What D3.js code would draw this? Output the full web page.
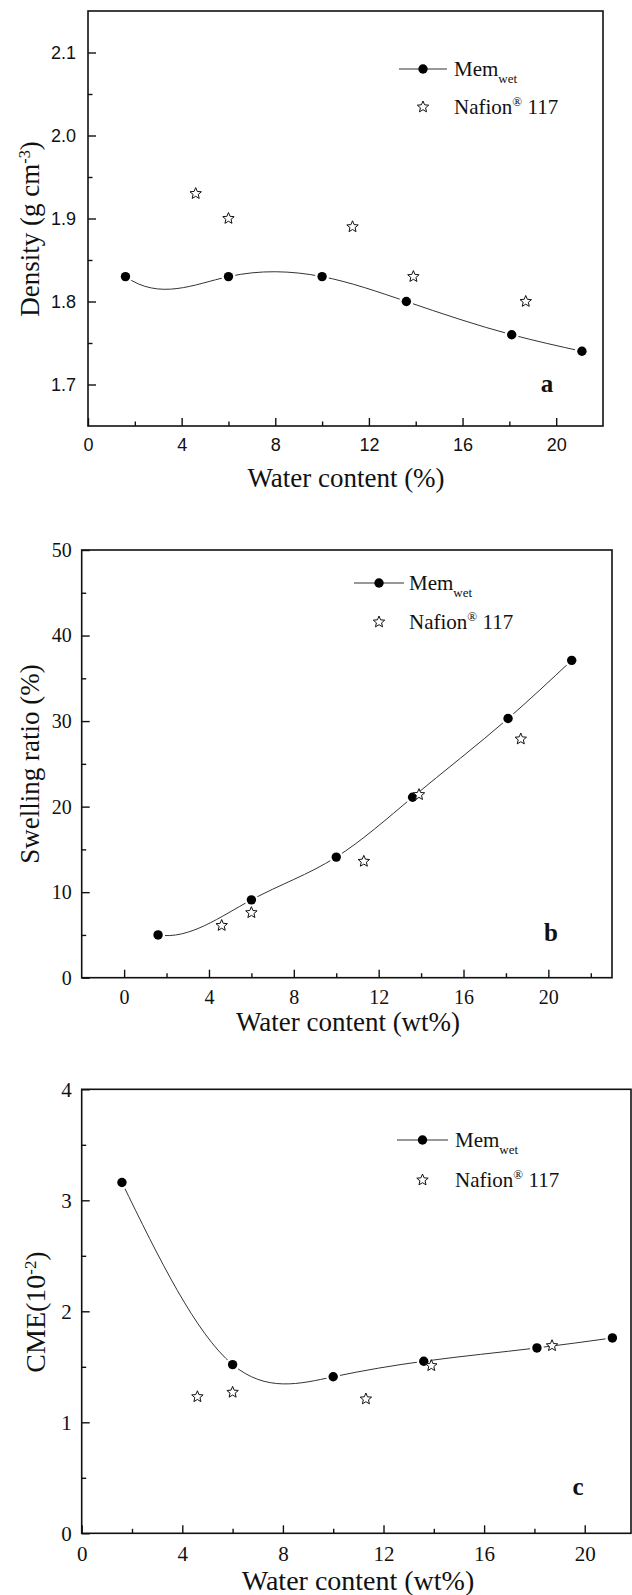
<!DOCTYPE html>
<html>
<head>
<meta charset="utf-8">
<script src="https://cdn.jsdelivr.net/npm/d3@7"></script>
<style>
  html, body { margin: 0; padding: 0; background: #fff; }
  svg { display: block; }
</style>
</head>
<body>
<svg id="chart" width="632" height="1595"></svg>
<script>
// ---------- data ----------
const memX = [1.6, 6.0, 10.0, 13.6, 18.1, 21.1];
const nafX = [4.6, 6.0, 11.3, 13.9, 18.7];

const densityMem = [1.83, 1.83, 1.83, 1.80, 1.76, 1.74];
const densityNaf = [1.93, 1.90, 1.89, 1.83, 1.80];

const swellMem = [5.0, 9.1, 14.1, 21.1, 30.3, 37.1];
const swellNaf = [6.1, 7.6, 13.6, 21.4, 27.9];

const cmeMem = [3.16, 1.52, 1.41, 1.55, 1.67, 1.76];
const cmeNaf = [1.23, 1.27, 1.21, 1.51, 1.69];

const xMajorTicks = [0, 4, 8, 12, 16, 20];
const xMinorTicksA = [2, 6, 10, 14, 18];
const xMinorTicksB = [2, 6, 10, 14, 18, 22];
const xMinorTicksC = [2, 6, 10, 14, 18];

const yMajorA = [1.7, 1.8, 1.9, 2.0, 2.1];
const yMinorA = [1.75, 1.85, 1.95, 2.05];
const yMajorB = [0, 10, 20, 30, 40, 50];
const yMinorB = [5, 15, 25, 35, 45];
const yMajorC = [0, 1, 2, 3, 4];
const yMinorC = [0.5, 1.5, 2.5, 3.5];

const legendMem = "Mem";
const legendMemSub = "wet";
const legendNaf = "Nafion";
const legendNafSup = "®";
const legendNafTail = " 117";

// ---------- drawing ----------
const svg = d3.select("#chart");
const SERIF = "'Liberation Serif', 'Times New Roman', serif";
const SANS = "'Liberation Sans', Arial, sans-serif";

function starPath(cx, cy, R, r) {
  let p = "";
  for (let i = 0; i < 10; i++) {
    const rad = i % 2 === 0 ? R : r;
    const a = -Math.PI / 2 + i * Math.PI / 5;
    p += (i === 0 ? "M" : "L") + (cx + rad * Math.cos(a)).toFixed(2) + "," + (cy + rad * Math.sin(a)).toFixed(2);
  }
  return p + "Z";
}

// cubic spline (function of x) slopes; startSlope/endSlope null => natural end
function splineSlopes(xs, ys, startSlope, endSlope) {
  const n = xs.length, h = [], d = [];
  for (let i = 0; i < n - 1; i++) { h[i] = xs[i + 1] - xs[i]; d[i] = (ys[i + 1] - ys[i]) / h[i]; }
  const A = Array.from({ length: n }, () => new Array(n).fill(0));
  const b = new Array(n).fill(0);
  if (startSlope == null) { A[0][0] = 1; }
  else { A[0][0] = 2 * h[0]; A[0][1] = h[0]; b[0] = 6 * (d[0] - startSlope); }
  for (let i = 1; i < n - 1; i++) {
    A[i][i - 1] = h[i - 1]; A[i][i] = 2 * (h[i - 1] + h[i]); A[i][i + 1] = h[i];
    b[i] = 6 * (d[i] - d[i - 1]);
  }
  if (endSlope == null) { A[n - 1][n - 1] = 1; }
  else { A[n - 1][n - 2] = h[n - 2]; A[n - 1][n - 1] = 2 * h[n - 2]; b[n - 1] = 6 * (endSlope - d[n - 2]); }
  // gaussian elimination
  for (let c = 0; c < n; c++) {
    let piv = c;
    for (let r = c + 1; r < n; r++) if (Math.abs(A[r][c]) > Math.abs(A[piv][c])) piv = r;
    [A[c], A[piv]] = [A[piv], A[c]]; [b[c], b[piv]] = [b[piv], b[c]];
    for (let r = c + 1; r < n; r++) {
      const f = A[r][c] / A[c][c];
      for (let k = c; k < n; k++) A[r][k] -= f * A[c][k];
      b[r] -= f * b[c];
    }
  }
  const M = new Array(n).fill(0);
  for (let r = n - 1; r >= 0; r--) {
    let s = b[r];
    for (let k = r + 1; k < n; k++) s -= A[r][k] * M[k];
    M[r] = s / A[r][r];
  }
  const s = [];
  for (let i = 0; i < n - 1; i++) s[i] = d[i] - h[i] * (2 * M[i] + M[i + 1]) / 6;
  s[n - 1] = d[n - 2] + h[n - 2] * (M[n - 2] + 2 * M[n - 1]) / 6;
  return s;
}

function splinePath(xs, ys, x, y, startSlope, endSlope) {
  const s = splineSlopes(xs, ys, startSlope, endSlope);
  const p = d3.path();
  p.moveTo(x(xs[0]), y(ys[0]));
  for (let i = 0; i < xs.length - 1; i++) {
    const h = xs[i + 1] - xs[i];
    p.bezierCurveTo(
      x(xs[i] + h / 3), y(ys[i] + s[i] * h / 3),
      x(xs[i + 1] - h / 3), y(ys[i + 1] - s[i + 1] * h / 3),
      x(xs[i + 1]), y(ys[i + 1]));
  }
  return p.toString();
}

let panelIndex = 0;
function drawPanel(cfg) {
  const id = "p" + (panelIndex++);
  const g = svg.append("g");
  const x = d3.scaleLinear().domain(cfg.xDomain).range([cfg.left, cfg.right]);
  const y = d3.scaleLinear().domain(cfg.yDomain).range([cfg.bottom, cfg.top]);

  svg.append("clipPath").attr("id", id + "clip")
    .append("rect").attr("x", cfg.left).attr("y", cfg.top)
    .attr("width", cfg.right - cfg.left).attr("height", cfg.bottom - cfg.top);

  // axes (ticks inward)
  g.append("g").attr("transform", `translate(0,${cfg.bottom})`)
    .call(d3.axisBottom(x).tickValues(xMajorTicks).tickSize(-8).tickPadding(cfg.xPad).tickFormat(d3.format("d")));
  g.append("g").attr("transform", `translate(0,${cfg.bottom})`)
    .call(d3.axisBottom(x).tickValues(cfg.xMinor).tickSize(-4.5).tickFormat(""));
  g.append("g").attr("transform", `translate(${cfg.left},0)`)
    .call(d3.axisLeft(y).tickValues(cfg.yMajor).tickSize(-8).tickPadding(cfg.yPad).tickFormat(cfg.yFormat));
  g.append("g").attr("transform", `translate(${cfg.left},0)`)
    .call(d3.axisLeft(y).tickValues(cfg.yMinor).tickSize(-4.5).tickFormat(""));
  g.selectAll(".domain").remove();
  g.selectAll(".tick line").attr("stroke", "#111").attr("stroke-width", 1.4);
  g.selectAll(".tick text").attr("font-family", cfg.tickFont).attr("font-size", cfg.tickSize).attr("fill", "#111");

  // frame
  g.append("rect").attr("x", cfg.left).attr("y", cfg.top)
    .attr("width", cfg.right - cfg.left).attr("height", cfg.bottom - cfg.top)
    .attr("fill", "none").attr("stroke", "#111").attr("stroke-width", 1.6);

  // mask for line gaps around markers
  const mask = svg.append("mask").attr("id", id + "mask").attr("maskUnits", "userSpaceOnUse")
    .attr("x", 0).attr("y", 0).attr("width", 632).attr("height", 1595);
  mask.append("rect").attr("x", 0).attr("y", 0).attr("width", 632).attr("height", 1595).attr("fill", "#fff");
  mask.selectAll("circle").data(memX).join("circle")
    .attr("cx", d => x(d)).attr("cy", (d, i) => y(cfg.mem[i])).attr("r", 7).attr("fill", "#000");

  g.append("path").attr("d", splinePath(memX, cfg.mem, x, y, cfg.startSlope, cfg.endSlope))
    .attr("fill", "none").attr("stroke", "#333").attr("stroke-width", 1)
    .attr("mask", `url(#${id}mask)`).attr("clip-path", `url(#${id}clip)`);

  const pts = memX.map((d, i) => [d, cfg.mem[i]]);
  g.selectAll(".mem").data(pts).join("circle").attr("class", "mem")
    .attr("cx", d => x(d[0])).attr("cy", d => y(d[1])).attr("r", 4.7).attr("fill", "#000");

  g.selectAll(".naf").data(nafX.map((d, i) => [d, cfg.naf[i]])).join("path").attr("class", "naf")
    .attr("d", d => starPath(x(d[0]), y(d[1]), 6, 2.7))
    .attr("fill", "#fff").attr("stroke", "#111").attr("stroke-width", 1);

  // legend
  const L = cfg.legend;
  g.append("line").attr("x1", L.x1).attr("x2", L.x2).attr("y1", L.y1).attr("y2", L.y1)
    .attr("stroke", "#333").attr("stroke-width", 1);
  g.append("circle").attr("cx", (L.x1 + L.x2) / 2).attr("cy", L.y1).attr("r", 4.7).attr("fill", "#000");
  g.append("path").attr("d", starPath((L.x1 + L.x2) / 2, L.y2, 6, 2.7))
    .attr("fill", "#fff").attr("stroke", "#111").attr("stroke-width", 1);
  const t1 = g.append("text").attr("x", L.tx).attr("y", L.y1 + 7)
    .attr("font-family", SERIF).attr("font-size", 21).attr("fill", "#111");
  t1.append("tspan").text(legendMem);
  t1.append("tspan").attr("dy", 7).attr("font-size", 13).text(legendMemSub);
  const t2 = g.append("text").attr("x", L.tx).attr("y", L.y2 + 7)
    .attr("font-family", SERIF).attr("font-size", 21).attr("fill", "#111");
  t2.append("tspan").text(legendNaf);
  t2.append("tspan").attr("dy", -8).attr("font-size", 13).text(legendNafSup);
  t2.append("tspan").attr("dy", 8).text(legendNafTail);

  // panel letter
  g.append("text").attr("x", cfg.letter.x).attr("y", cfg.letter.y).attr("text-anchor", "middle")
    .attr("font-family", SERIF).attr("font-weight", "bold").attr("font-size", 25)
    .attr("fill", "#111").text(cfg.letter.t);

  // x title
  g.append("text").attr("x", cfg.xTitleX)
    .attr("y", cfg.xTitleY).attr("text-anchor", "middle")
    .attr("font-family", SERIF).attr("font-size", cfg.titleSize).attr("fill", "#111")
    .text(cfg.xTitle);

  // y title
  const yt = g.append("text")
    .attr("transform", `translate(${cfg.yTitleX},${cfg.yTitleCY}) rotate(-90)`)
    .attr("text-anchor", "middle")
    .attr("font-family", SERIF).attr("font-size", cfg.titleSize).attr("fill", "#111");
  yt.append("tspan").text(cfg.yTitle[0]);
  if (cfg.yTitle[1]) {
    yt.append("tspan").attr("dy", -9).attr("font-size", cfg.titleSize * 0.6).text(cfg.yTitle[1]);
    yt.append("tspan").attr("dy", 9).text(cfg.yTitle[2]);
  }
}

drawPanel({
  left: 88, right: 603, top: 11, bottom: 426,
  xDomain: [0, 22], yDomain: [1.65, 2.15],
  xMinor: xMinorTicksA, yMajor: yMajorA, yMinor: yMinorA,
  yFormat: d3.format(".1f"),
  tickFont: SANS, tickSize: 18, xPad: 12, yPad: 12,
  mem: densityMem, naf: densityNaf, startSlope: -0.02, endSlope: null,
  legend: { x1: 399, x2: 447, y1: 69, y2: 107, tx: 454 },
  letter: { x: 547, y: 392, t: "a" },
  xTitle: "Water content (%)", xTitleX: 346, xTitleY: 487, titleSize: 27,
  yTitle: ["Density (g cm", "-3", ")"], yTitleX: 39, yTitleCY: 229
});

drawPanel({
  left: 81.7, right: 612, top: 550, bottom: 977.7,
  xDomain: [-2, 23], yDomain: [0, 50],
  xMinor: xMinorTicksB, yMajor: yMajorB, yMinor: yMinorB,
  yFormat: d3.format("d"),
  tickFont: SERIF, tickSize: 20, xPad: 12, yPad: 10,
  mem: swellMem, naf: swellNaf, startSlope: -0.4, endSlope: null,
  legend: { x1: 354, x2: 404, y1: 583, y2: 622, tx: 409 },
  letter: { x: 551, y: 941, t: "b" },
  xTitle: "Water content (wt%)", xTitleX: 348, xTitleY: 1031, titleSize: 27,
  yTitle: ["Swelling ratio (%)"], yTitleX: 39, yTitleCY: 764
});

drawPanel({
  left: 81.7, right: 631, top: 1089.3, bottom: 1533.3,
  xDomain: [0, 21.84], yDomain: [0, 4],
  xMinor: xMinorTicksC, yMajor: yMajorC, yMinor: yMinorC,
  yFormat: d3.format("d"),
  tickFont: SERIF, tickSize: 21, xPad: 13, yPad: 10,
  mem: cmeMem, naf: cmeNaf, startSlope: null, endSlope: null,
  legend: { x1: 397, x2: 448, y1: 1140, y2: 1180, tx: 455 },
  letter: { x: 578, y: 1495, t: "c" },
  xTitle: "Water content (wt%)", xTitleX: 358, xTitleY: 1590, titleSize: 28,
  yTitle: ["CME(10", "-2", ")"], yTitleX: 45, yTitleCY: 1312
});
</script>
</body>
</html>
